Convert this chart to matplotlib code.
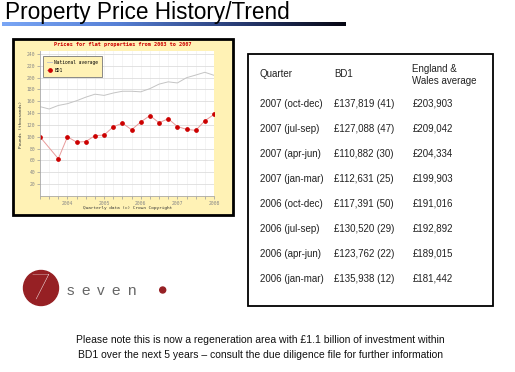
import numpy as np
import matplotlib
matplotlib.use("Agg")
import matplotlib.pyplot as plt
import matplotlib.patches as pat
from matplotlib.colors import LinearSegmentedColormap

W, H = 515, 372

# table data (newest first)
quarters = ["2007 (oct-dec)", "2007 (jul-sep)", "2007 (apr-jun)", "2007 (jan-mar)",
            "2006 (oct-dec)", "2006 (jul-sep)", "2006 (apr-jun)", "2006 (jan-mar)"]
bd1_price = [137819, 127088, 110882, 112631, 117391, 130520, 123762, 135938]
bd1_sales = [41, 47, 30, 25, 50, 29, 22, 12]
ew_avg = [203903, 209042, 204334, 199903, 191016, 192892, 189015, 181442]

# chart data, thousands of pounds at quarter ends
bd1_x = [2003.25, 2003.75, 2004.0, 2004.25, 2004.5, 2004.75, 2005.0, 2005.25, 2005.5,
         2005.75, 2006.0, 2006.25, 2006.5, 2006.75, 2007.0, 2007.25, 2007.5, 2007.75, 2008.0]
bd1_early = [100, 63, 100, 91, 92, 102, 103, 117, 123, 112, 125]
bd1_y = bd1_early + [p / 1000 for p in reversed(bd1_price)]

nat_x = [2003.25, 2003.5, 2003.75, 2004.0, 2004.25, 2004.5, 2004.75, 2005.0, 2005.25, 2005.5,
         2005.75, 2006.0, 2006.25, 2006.5, 2006.75, 2007.0, 2007.25, 2007.5, 2007.75, 2008.0]
nat_early = [151, 147, 153, 156, 161, 167, 172, 170, 174, 177, 177, 176]
nat_y = nat_early + [p / 1000 for p in reversed(ew_avg)]

year_ticks = [2004, 2005, 2006, 2007, 2008]
y_ticks = list(range(20, 260, 20))

footer = ["Please note this is now a regeneration area with \u00a31.1 billion of investment within",
          "BD1 over the next 5 years \u2013 consult the due diligence file for further information"]

SANS = "Liberation Sans"
MONO = "DejaVu Sans Mono"
YELLOW = "#fff2b5"
DARKRED = "#962024"
INK = "#222222"


def box(l, t, r, b):
    return [l / W, 1 - b / H, (r - l) / W, (b - t) / H]


fig = plt.figure(figsize=(W / 100, H / 100), dpi=100)
fig.patch.set_facecolor("white")

# pixel canvas for the slide decoration
cv = fig.add_axes([0, 0, 1, 1], zorder=-1)
cv.set_xlim(0, W)
cv.set_ylim(H, 0)
cv.axis("off")

cv.text(5, 19, "Property Price History/Trend", fontsize=16.3, family=SANS,
        va="baseline", ha="left", color="black")
rule = LinearSegmentedColormap.from_list("rule", ["#7aa6f5", "#5680d6", "#2a3f7a", "#060612"])
cv.imshow(np.linspace(0, 1, 256)[None, :], aspect="auto", cmap=rule,
          extent=(2, 346, 26.5, 22.5))
cv.set_xlim(0, W)
cv.set_ylim(H, 0)

# chart frame
cv.add_patch(pat.Rectangle((13, 39), 220, 176, facecolor=YELLOW, edgecolor="black", lw=2))
cv.text(123, 44.5, "Prices for flat properties from 2003 to 2007", color="#cc0000",
        fontsize=3.8, family=MONO, weight="bold", ha="center", va="center")
cv.text(21.5, 124, "Pounds (thousands)", rotation=90, fontsize=3.2, family=MONO,
        ha="center", va="center", color="#333333")
cv.text(128, 207.5, "Quarterly data (c) Crown Copyright", fontsize=3.2, family=MONO,
        ha="center", va="center", color="#333333")

# table
cv.add_patch(pat.Rectangle((247.5, 53.5), 245, 252.5, facecolor="white", edgecolor="black", lw=1.3))
col_x = [260, 334, 412.5]
cv.text(col_x[0], 77, "Quarter", fontsize=7, family=SANS, va="baseline", color=INK)
cv.text(col_x[1], 77, "BD1", fontsize=7, family=SANS, va="baseline", color=INK)
cv.text(col_x[2], 84, "England &\nWales average", fontsize=7, family=SANS, va="baseline",
        linespacing=1.3, color=INK)
for i, q in enumerate(quarters):
    y = 106.8 + 25 * i
    cv.text(col_x[0], y, q, fontsize=7, family=SANS, va="baseline", color=INK)
    cv.text(col_x[1], y, "\u00a3{:,} ({})".format(bd1_price[i], bd1_sales[i]),
            fontsize=7, family=SANS, va="baseline", color=INK)
    cv.text(col_x[2], y, "\u00a3{:,}".format(ew_avg[i]), fontsize=7, family=SANS,
            va="baseline", color=INK)

# logo
cv.add_patch(pat.Circle((41, 288), 17.5, color=DARKRED))
cv.text(40, 289, "7", color="white", fontsize=26, family="Lato", weight="light",
        ha="center", va="center")
for i, ch in enumerate("seven"):
    cv.text(70 + 15.3 * i, 291, ch, fontsize=11, family=SANS, color="#666666",
            ha="center", va="center")
cv.add_patch(pat.Circle((162.7, 290), 3, color=DARKRED))

# footer
for i, line in enumerate(footer):
    cv.text(260, 340 + 15 * i, line, fontsize=7.5, family=SANS, ha="center",
            va="center", color="#111111")

# the chart itself
ax = fig.add_axes(box(40, 51, 214, 196), zorder=1)
ax.set_facecolor("white")
ax.set_xlim(2003.25, 2008)
ax.set_ylim(0, 245)
ax.set_yticks(y_ticks)
ax.set_xticks(year_ticks)
ax.set_xticks(np.arange(2003.25, 2008.01, 0.25), minor=True)
ax.grid(True, axis="y", color="#dddddd", lw=0.6)
ax.grid(True, axis="x", which="both", color="#f0f0f0", lw=0.5)
ax.set_axisbelow(True)
for s in ["top", "right"]:
    ax.spines[s].set_visible(False)
for s in ["left", "bottom"]:
    ax.spines[s].set_color("#aaaaaa")
    ax.spines[s].set_linewidth(0.6)
ax.tick_params(which="both", direction="out", length=2, width=0.5, color="#999999",
               labelsize=3.4, labelcolor="#888888", pad=1.5)
for lab in ax.get_xticklabels() + ax.get_yticklabels():
    lab.set_family(MONO)

ax.plot(nat_x, nat_y, color="#c4c4c4", lw=0.7, label="National average")
ax.plot(bd1_x, bd1_y, color="#e89a9a", lw=0.7, marker="o", ms=2.4,
        mfc="#cc0000", mec="#cc0000", label="BD1")
leg = ax.legend(loc="upper left", bbox_to_anchor=(0.019, 0.968), borderaxespad=0,
                prop={"family": MONO, "size": 3.3}, fancybox=False, framealpha=1,
                facecolor=YELLOW, edgecolor="#777777", handlelength=1.0,
                borderpad=0.9, labelspacing=0.7, handletextpad=0.5)
leg.get_frame().set_linewidth(0.6)

fig.savefig("out.png", dpi=100)
